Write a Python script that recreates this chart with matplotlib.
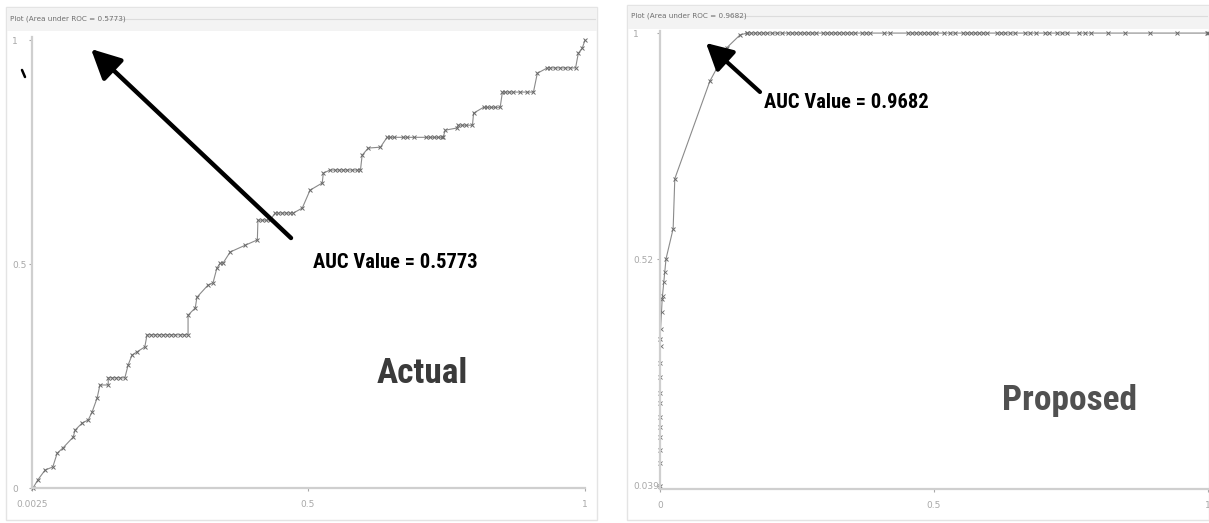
import matplotlib
matplotlib.use("Agg")
import matplotlib.pyplot as plt
from matplotlib.patches import Rectangle
from matplotlib import font_manager

# ---- data: ROC curve vertices (false positive rate, true positive rate) ----
actual_fpr = [0.0043, 0.013, 0.026, 0.040, 0.048, 0.058, 0.077, 0.080, 0.093, 0.104,
              0.111, 0.120, 0.125, 0.140, 0.140, 0.170, 0.176, 0.183, 0.192, 0.206,
              0.210, 0.284, 0.284, 0.297, 0.300, 0.320, 0.329, 0.336, 0.342, 0.347,
              0.360, 0.387, 0.409, 0.410, 0.432, 0.441, 0.474, 0.490, 0.504, 0.526,
              0.528, 0.540, 0.595, 0.598, 0.609, 0.631, 0.643, 0.744, 0.748, 0.770,
              0.771, 0.797, 0.799, 0.817, 0.847, 0.851, 0.907, 0.914, 0.932, 0.983,
              0.988, 0.995, 1.000]
actual_tpr = [0.000, 0.018, 0.040, 0.047, 0.078, 0.089, 0.114, 0.129, 0.145, 0.152,
              0.170, 0.201, 0.230, 0.230, 0.246, 0.246, 0.275, 0.297, 0.304, 0.315,
              0.342, 0.342, 0.386, 0.402, 0.426, 0.453, 0.458, 0.491, 0.502, 0.502,
              0.527, 0.542, 0.554, 0.598, 0.598, 0.614, 0.614, 0.625, 0.665, 0.681,
              0.703, 0.710, 0.710, 0.743, 0.759, 0.761, 0.783, 0.783, 0.799, 0.804,
              0.810, 0.810, 0.837, 0.850, 0.850, 0.884, 0.884, 0.926, 0.938, 0.938,
              0.971, 0.982, 1.000]

# extra instance markers sitting on the flat steps of the actual curve
actual_mark_fpr = [0.147, 0.154, 0.161,
                   0.217, 0.225, 0.232, 0.239, 0.246, 0.253, 0.261, 0.270, 0.277,
                   0.418, 0.425,
                   0.447, 0.454, 0.461, 0.468,
                   0.549, 0.557, 0.564, 0.571, 0.580, 0.589,
                   0.649, 0.656, 0.672, 0.679, 0.692, 0.714, 0.721, 0.728, 0.735, 0.742,
                   0.779, 0.786,
                   0.824, 0.831, 0.838,
                   0.856, 0.863, 0.871, 0.883, 0.896,
                   0.937, 0.946, 0.955, 0.964, 0.973]
actual_mark_tpr = [0.246, 0.246, 0.246,
                   0.342, 0.342, 0.342, 0.342, 0.342, 0.342, 0.342, 0.342, 0.342,
                   0.598, 0.598,
                   0.614, 0.614, 0.614, 0.614,
                   0.710, 0.710, 0.710, 0.710, 0.710, 0.710,
                   0.783, 0.783, 0.783, 0.783, 0.783, 0.783, 0.783, 0.783, 0.783, 0.783,
                   0.810, 0.810,
                   0.850, 0.850, 0.850,
                   0.884, 0.884, 0.884, 0.884, 0.884,
                   0.938, 0.938, 0.938, 0.938, 0.938]

proposed_fpr = [0.000, 0.000, 0.004, 0.011, 0.024, 0.027, 0.091, 0.104, 0.122, 0.146,
                0.159, 1.000]
proposed_tpr = [0.039, 0.350, 0.436, 0.521, 0.585, 0.691, 0.898, 0.926, 0.969, 0.996,
                1.000, 1.000]

# instance markers on the lower, near-vertical part of the proposed curve
proposed_low_fpr = [0.000, 0.000, 0.000, 0.000, 0.000, 0.000, 0.000, 0.000, 0.000,
                    0.001, 0.002, 0.003, 0.005, 0.007, 0.009]
proposed_low_tpr = [0.088, 0.116, 0.143, 0.165, 0.186, 0.216, 0.237, 0.271, 0.301,
                    0.335, 0.372, 0.408, 0.442, 0.472, 0.493]

# instance markers along the TPR = 1 plateau of the proposed curve
proposed_top_fpr = [0.159, 0.166, 0.173, 0.181, 0.188, 0.195, 0.204, 0.213, 0.223,
                    0.234, 0.241, 0.248, 0.255, 0.263, 0.270, 0.277, 0.285, 0.297,
                    0.305, 0.312, 0.319, 0.327, 0.334, 0.341, 0.349, 0.356, 0.369,
                    0.376, 0.383, 0.409, 0.420, 0.453, 0.460, 0.467, 0.474, 0.482,
                    0.489, 0.496, 0.504, 0.518, 0.529, 0.538, 0.553, 0.560, 0.568,
                    0.575, 0.582, 0.589, 0.597, 0.615, 0.622, 0.630, 0.639, 0.648,
                    0.666, 0.675, 0.686, 0.703, 0.710, 0.724, 0.734, 0.743, 0.765,
                    0.776, 0.786, 0.818, 0.849, 0.894, 0.943, 0.998]

actual_auc = "0.5773"
proposed_auc = "0.9682"

actual_xticks = [0.0025, 0.5, 1.0]
actual_xticklabels = ["0.0025", "0.5", "1"]
actual_yticks = [0.0, 0.5, 1.0]
actual_yticklabels = ["0", "0.5", "1"]
proposed_xticks = [0.0, 0.5, 1.0]
proposed_xticklabels = ["0", "0.5", "1"]
proposed_yticks = [0.039, 0.52, 1.0]
proposed_yticklabels = ["0.039", "0.52", "1"]


def pick_condensed_bold():
    """Find an installed bold narrow/condensed face, best match first."""
    fonts = font_manager.fontManager.ttflist
    preferred = ["Liberation Sans Narrow", "Roboto Condensed", "DejaVu Sans",
                 "Open Sans Condensed", "Noto Sans", "Open Sans"]
    def is_bold(f):
        w = f.weight
        if isinstance(w, str):
            return w in ("bold", "heavy", "black", "extra bold", "semibold", "demibold")
        return w >= 600
    def is_narrow(f):
        n = f.name.lower()
        return ("narrow" in n or "condensed" in n or
                f.stretch in ("condensed", "semi-condensed", "extra-condensed",
                              "ultra-condensed") or
                (isinstance(f.stretch, (int, float)) and f.stretch < 500) or
                "condensed" in f.fname.lower() or "narrow" in f.fname.lower())
    cands = [f for f in fonts if is_bold(f) and is_narrow(f)]
    for name in preferred:
        for f in cands:
            if f.name == name or f.name.startswith(name):
                return font_manager.FontProperties(fname=f.fname), True
    if cands:
        return font_manager.FontProperties(fname=cands[0].fname), True
    return font_manager.FontProperties(family="DejaVu Sans", weight="bold"), False


bold_narrow, found_narrow = pick_condensed_bold()
scale = 1.0 if found_narrow else 0.72

# ---- figure ----
W, H = 1209, 523
fig = plt.figure(figsize=(W / 100, H / 100), dpi=100)
fig.patch.set_facecolor("white")


def px_axes(x0, y0, x1, y1, zorder=1):
    """Axes placed by pixel box (top-left origin)."""
    return fig.add_axes([x0 / W, 1 - y1 / H, (x1 - x0) / W, (y1 - y0) / H], zorder=zorder)


# background layer: panel frames with titled headers
bg = fig.add_axes([0, 0, 1, 1], zorder=0)
bg.set_xlim(0, W)
bg.set_ylim(H, 0)
bg.axis("off")

panels = [(6, 597, 7, 30, 19, "Plot (Area under ROC = %s)" % actual_auc, 103),
          (627, 1209, 5, 28, 16, "Plot (Area under ROC = %s)" % proposed_auc, 725)]
for x0, x1, ytop, yband, ytitle, title, title_end in panels:
    bg.add_patch(Rectangle((x0, ytop), x1 - x0, 520 - ytop, facecolor="white",
                           edgecolor="#e4e4e4", lw=1.0))
    bg.add_patch(Rectangle((x0 + 0.5, ytop + 0.5), x1 - x0 - 1, yband - ytop,
                           facecolor="#f3f3f3", edgecolor="none"))
    bg.plot([title_end + 3, x1 - 2], [ytitle, ytitle], color="#dcdcdc", lw=0.8)
    bg.text(x0 + 4, ytitle, title, fontsize=5.2, color="#6e6e6e", va="center",
            ha="left", family="DejaVu Sans")

line_color = "#8a8a8a"
mark_color = "#6a6a6a"
tick_color = "#a8a8a8"
spine_color = "#cfcfcf"


def style_axes(ax, ylabel_offset_px):
    for side in ("top", "right"):
        ax.spines[side].set_visible(False)
    for side in ("left", "bottom"):
        ax.spines[side].set_color(spine_color)
        ax.spines[side].set_linewidth(1.6)
    ax.set_facecolor("none")
    ax.tick_params(axis="both", colors=tick_color, labelsize=6.5, length=2.5,
                   width=0.8, labelcolor=tick_color)
    ax.tick_params(axis="x", pad=6)
    # y tick labels are left-aligned at a fixed distance from the axis line
    ax.tick_params(axis="y", pad=ylabel_offset_px * 0.72 - 2.5)
    for lab in ax.get_yticklabels():
        lab.set_horizontalalignment("left")


# left plot: actual
axL = px_axes(32, 37, 585, 488, zorder=2)
axL.plot(actual_fpr, actual_tpr, color=line_color, lw=0.8, marker="x",
         ms=2.6, mew=0.7, mec=mark_color, clip_on=False)
axL.plot(actual_mark_fpr, actual_mark_tpr, ls="none", marker="x", ms=2.6,
         mew=0.7, mec=mark_color, clip_on=False)
axL.set_xlim(0.0025, 1.0)
axL.set_ylim(0.0, 1.007)
axL.set_xticks(actual_xticks)
axL.set_xticklabels(actual_xticklabels)
axL.set_yticks(actual_yticks)
axL.set_yticklabels(actual_yticklabels)
style_axes(axL, 20)

# right plot: proposed
axR = px_axes(660, 31, 1208, 489, zorder=2)
axR.plot(proposed_fpr, proposed_tpr, color=line_color, lw=0.8, marker="x",
         ms=2.6, mew=0.7, mec=mark_color, clip_on=False)
axR.plot(proposed_low_fpr, proposed_low_tpr, ls="none", marker="x", ms=2.4,
         mew=0.6, mec=mark_color, clip_on=False)
axR.plot(proposed_top_fpr, [1.0] * len(proposed_top_fpr), ls="none", marker="x",
         ms=2.8, mew=0.7, mec=mark_color, clip_on=False)
axR.set_xlim(0.0, 1.0)
axR.set_ylim(0.0326, 1.0044)
axR.set_xticks(proposed_xticks)
axR.set_xticklabels(proposed_xticklabels)
axR.set_yticks(proposed_yticks)
axR.set_yticklabels(proposed_yticklabels)
style_axes(axR, 27)

# foreground layer: arrows and annotation text
fg = fig.add_axes([0, 0, 1, 1], zorder=5)
fg.set_xlim(0, W)
fg.set_ylim(H, 0)
fg.axis("off")
fg.patch.set_alpha(0)

fg.annotate("", xy=(91, 49), xytext=(291, 238),
            arrowprops=dict(arrowstyle="-|>,head_length=1.8,head_width=0.9",
                            color="black", lw=3.2, shrinkA=0, shrinkB=0))
fg.annotate("", xy=(706, 43), xytext=(760, 92),
            arrowprops=dict(arrowstyle="-|>,head_length=1.6,head_width=0.85",
                            color="black", lw=3.0, shrinkA=0, shrinkB=0))

fg.text(313, 268, "AUC Value = %s" % actual_auc, fontproperties=bold_narrow,
        fontsize=14.8 * scale, color="black", ha="left", va="baseline")
fg.text(764, 108, "AUC Value = %s" % proposed_auc, fontproperties=bold_narrow,
        fontsize=14.8 * scale, color="black", ha="left", va="baseline")

fg.text(377, 383, "Actual", fontproperties=bold_narrow, fontsize=25.5 * scale,
        color="#3a3a3a", ha="left", va="baseline")
fg.text(1002, 410, "Proposed", fontproperties=bold_narrow, fontsize=25.5 * scale,
        color="#505050", ha="left", va="baseline")

# small pen stroke near the top-left of the left plot
fg.plot([22, 25], [70, 77], color="black", lw=1.8, solid_capstyle="round")

fig.savefig("out.png", dpi=100, facecolor="white")
